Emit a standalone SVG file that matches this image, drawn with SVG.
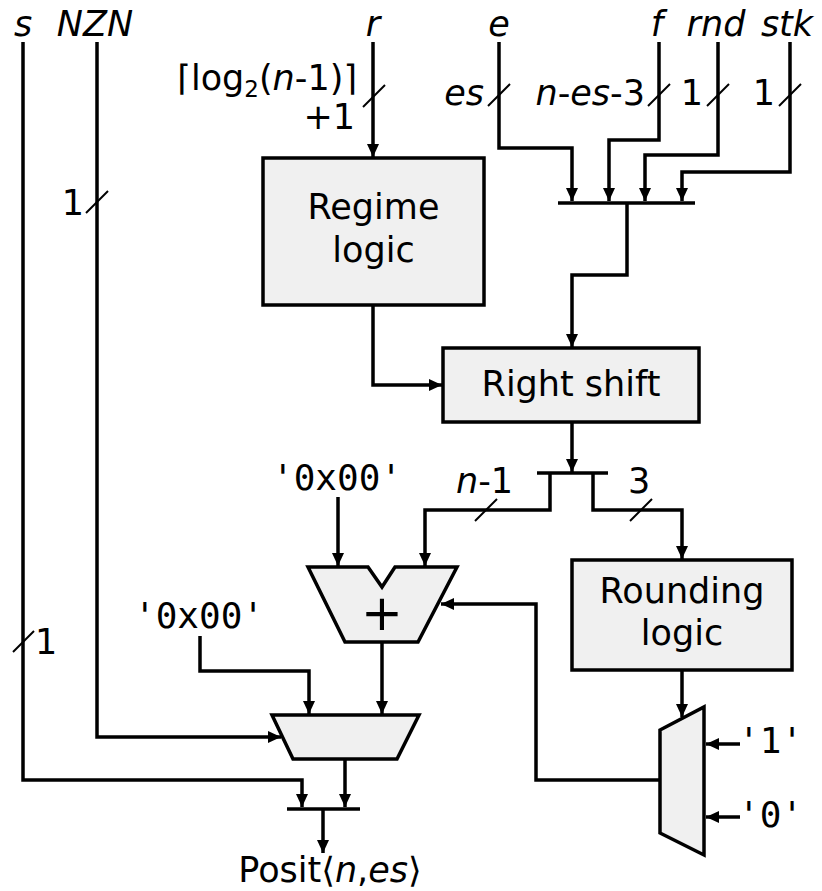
<svg xmlns="http://www.w3.org/2000/svg" width="822" height="891" viewBox="0 0 822 891">
<style>
.w{fill:none;stroke:#000;stroke-width:3.5;stroke-linejoin:miter;stroke-linecap:butt}
.a{marker-end:url(#ah)}
.sl{fill:none;stroke:#000;stroke-width:2}
.box{fill:#f0f0f0;stroke:#000;stroke-width:3.5}
.t{font-family:"DejaVu Sans","Liberation Sans",sans-serif;font-size:35px;fill:#000}
.bt{font-family:"DejaVu Sans","Liberation Sans",sans-serif;font-size:35px;fill:#000;text-anchor:middle}
.m{font-family:"DejaVu Sans Mono","Liberation Mono",monospace;font-size:36px;fill:#000}
.i{font-style:italic}
</style>
<defs>
<marker id="ah" markerUnits="userSpaceOnUse" markerWidth="14" markerHeight="14" viewBox="0 0 14 14" refX="13" refY="7" orient="auto">
<path d="M0,1 L13,7 L0,13 z" fill="#000"/>
</marker>
</defs>
<rect width="822" height="891" fill="#fff"/>

<g id="inputs">
<text class="t i" x="23" y="36" text-anchor="middle">s</text>
<text class="t i" x="95" y="36" text-anchor="middle">NZN</text>
<text class="t i" x="373" y="36" text-anchor="middle">r</text>
<text class="t i" x="499" y="36" text-anchor="middle">e</text>
<text class="t i" x="657" y="36" text-anchor="middle">f</text>
<text class="t i" x="716" y="36" text-anchor="middle">rnd</text>
<text class="t i" x="787" y="36" text-anchor="middle">stk</text>
</g>

<g id="regime">
<rect class="box" x="263" y="158" width="221" height="147"/>
<text class="bt" x="373.5" y="219">Regime</text>
<text class="bt" x="373.5" y="262">logic</text>
</g>

<g id="rightshift">
<rect class="box" x="443" y="348" width="256" height="74"/>
<text class="bt" x="571" y="396">Right shift</text>
</g>

<g id="rounding">
<rect class="box" x="572" y="560" width="220" height="110"/>
<text class="bt" x="682" y="603">Rounding</text>
<text class="bt" x="682" y="645">logic</text>
</g>

<g id="adder">
<polygon class="box" points="308,567 368,567 382,587 395,567 457,567 418,642 345,642"/>
<text class="bt" x="382" y="630" style="font-size:50px">+</text>
</g>

<g id="outmux">
<polygon class="box" points="272,715 419,715 397,759 293,759"/>
</g>

<g id="roundmux">
<polygon class="box" points="660,730 704,707 704,855 660,833"/>
</g>

<g id="connectors">
<path class="w a" d="M23,42 V780 H302 V807"/>
<path class="w a" d="M97,42 V737 H281"/>
<path class="w a" d="M373,42 V157"/>
<path class="w a" d="M499,42 V148 H572 V201"/>
<path class="w a" d="M659,42 V140 H609 V201"/>
<path class="w a" d="M718,42 V155 H645 V201"/>
<path class="w a" d="M790,42 V172 H682 V201"/>
<path class="w" d="M558,203 H695"/>
<path class="w a" d="M627,203 V275 H572 V347"/>
<path class="w a" d="M373,305 V385 H442"/>
<path class="w a" d="M572,422 V472"/>
<path class="w" d="M537,473 H608"/>
<path class="w a" d="M550,473 V510 H425 V566"/>
<path class="w a" d="M593,473 V510 H682 V559"/>
<path class="w a" d="M338,497 V566"/>
<path class="w a" d="M660,780 H536 V604 H441"/>
<path class="w a" d="M682,671 V717"/>
<path class="w a" d="M740,744 H706"/>
<path class="w a" d="M740,817 H706"/>
<path class="w a" d="M382,642 V714"/>
<path class="w a" d="M200,636 V671 H309 V714"/>
<path class="w a" d="M345,759 V807"/>
<path class="w" d="M287,809 H360"/>
<path class="w a" d="M323,809 V853"/>
<path class="sl" d="M363,107 L385,85"/>
<path class="sl" d="M488,106 L510,84"/>
<path class="sl" d="M648,106 L670,84"/>
<path class="sl" d="M707,106 L729,84"/>
<path class="sl" d="M779,106 L801,84"/>
<path class="sl" d="M86,213 L108,191"/>
<path class="sl" d="M13,652 L34,631"/>
<path class="sl" d="M475,521 L497,499"/>
<path class="sl" d="M630,521 L652,499"/>
</g>

<g id="labels">
<text class="t" x="357" y="90" text-anchor="end">⌈log<tspan font-size="23" dy="7">2</tspan><tspan dy="-7">(</tspan><tspan class="i">n</tspan>-1)⌉</text>
<text class="t" x="355" y="129" text-anchor="end">+1</text>
<text class="t i" x="484" y="105" text-anchor="end">es</text>
<text class="t" x="645" y="105" text-anchor="end"><tspan class="i">n</tspan>-<tspan class="i">es</tspan>-3</text>
<text class="t" x="703" y="105" text-anchor="end">1</text>
<text class="t" x="775" y="105" text-anchor="end">1</text>
<text class="t" x="84" y="215" text-anchor="end">1</text>
<text class="t" x="35" y="654">1</text>
<text class="t" x="456" y="493"><tspan class="i">n</tspan>-1</text>
<text class="t" x="628" y="493">3</text>
<text class="m" x="272" y="490">'0x00'</text>
<text class="m" x="134" y="628">'0x00'</text>
<text class="m" x="738" y="753">'1'</text>
<text class="m" x="738" y="827">'0'</text>
<text class="t" x="330" y="882" text-anchor="middle">Posit⟨<tspan class="i">n</tspan>,<tspan class="i">es</tspan>⟩</text>
</g>
</svg>
